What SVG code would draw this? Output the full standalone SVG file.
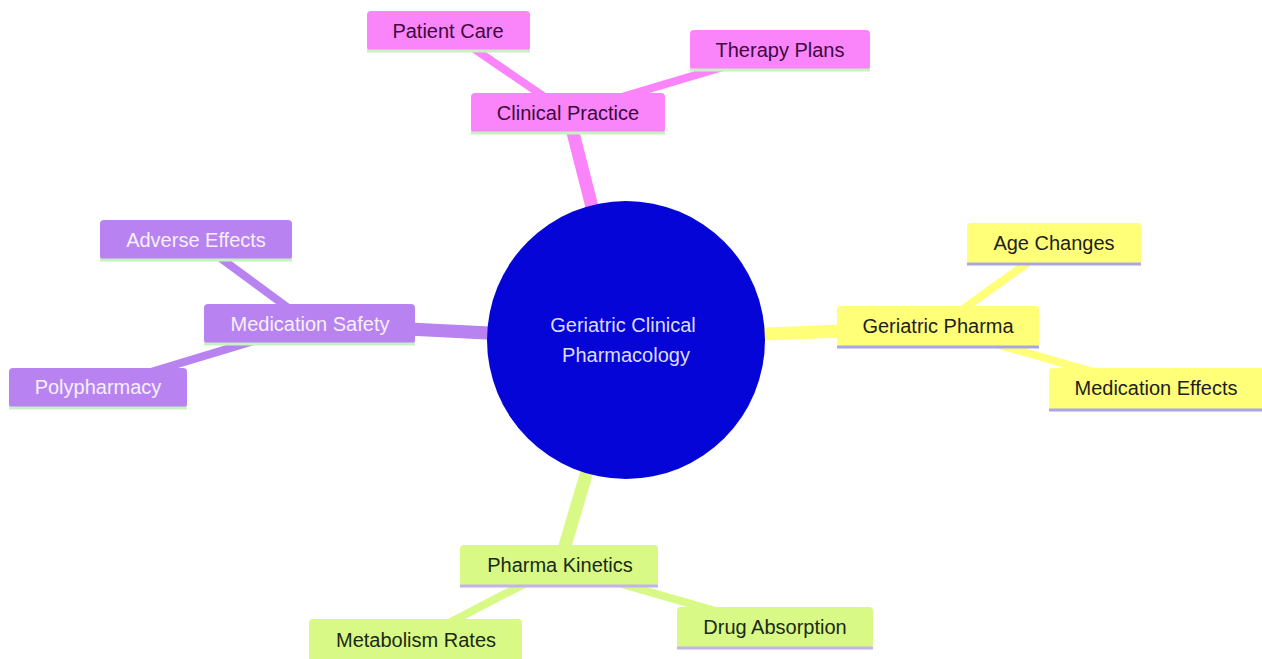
<svg xmlns="http://www.w3.org/2000/svg" width="1262" height="659" viewBox="0 0 1262 659">
<style>
text{font-family:"Liberation Sans",Arial,sans-serif;font-size:20px;text-anchor:middle}
.e0{stroke-width:13;stroke-linecap:butt;fill:none}
.e1{stroke-width:8;stroke-linecap:butt;fill:none}
.pink{fill:#fa84fa}.pinkS{stroke:#fa84fa}
.purp{fill:#b883f0}.purpS{stroke:#b883f0}
.yel{fill:#ffff78}.yelS{stroke:#ffff78}
.lime{fill:#d9f986}.limeS{stroke:#d9f986}
.bg{stroke:#c6f2bf;stroke-width:3}
.bl{stroke:#a9a6e6;stroke-width:3}
.bv{stroke:#c2b3ea;stroke-width:3}
.tp{fill:#3c0a3c}.tw{fill:#f6efff}.td{fill:#1e1e1e}.tl{fill:#1a2a12}
</style>
<rect width="1262" height="659" fill="#ffffff"/>
<g id="connectors">
<line class="e0 pinkS" x1="626" y1="340" x2="568" y2="113"/>
<line class="e0 purpS" x1="626" y1="340" x2="310" y2="324"/>
<line class="e0 yelS" x1="626" y1="340" x2="938" y2="327"/>
<line class="e0 limeS" x1="626" y1="340" x2="559" y2="566"/>
<line class="e1 pinkS" x1="568" y1="113" x2="448" y2="31"/>
<line class="e1 pinkS" x1="568" y1="113" x2="780" y2="50"/>
<line class="e1 purpS" x1="310" y1="324" x2="196" y2="240"/>
<line class="e1 purpS" x1="310" y1="324" x2="98" y2="388"/>
<line class="e1 yelS" x1="938" y1="327" x2="1054" y2="244"/>
<line class="e1 yelS" x1="938" y1="327" x2="1155" y2="390"/>
<line class="e1 limeS" x1="559" y1="566" x2="416" y2="640"/>
<line class="e1 limeS" x1="559" y1="566" x2="775" y2="628"/>
</g>
<g id="root">
<circle cx="626" cy="340" r="139" fill="#0505d8"/>
<text x="623" y="332" fill="#dcdcff">Geriatric Clinical</text>
<text x="626" y="362" fill="#dcdcff">Pharmacology</text>
</g>
<g id="clinical-practice">
<rect class="pink" x="471" y="93" width="194" height="40" rx="4"/>
<line class="bg" x1="471" y1="133" x2="665" y2="133"/>
<text class="tp" x="568" y="120">Clinical Practice</text>
</g>
<g id="patient-care">
<rect class="pink" x="367" y="11" width="163" height="40" rx="4"/>
<line class="bg" x1="367" y1="51" x2="530" y2="51"/>
<text class="tp" x="448" y="38">Patient Care</text>
</g>
<g id="therapy-plans">
<rect class="pink" x="690" y="30" width="180" height="40" rx="4"/>
<line class="bg" x1="690" y1="70" x2="870" y2="70"/>
<text class="tp" x="780" y="57">Therapy Plans</text>
</g>
<g id="medication-safety">
<rect class="purp" x="204" y="304" width="211" height="40" rx="4"/>
<line class="bg" x1="204" y1="344" x2="415" y2="344"/>
<text class="tw" x="310" y="331">Medication Safety</text>
</g>
<g id="adverse-effects">
<rect class="purp" x="100" y="220" width="192" height="40" rx="4"/>
<line class="bg" x1="100" y1="260" x2="292" y2="260"/>
<text class="tw" x="196" y="247">Adverse Effects</text>
</g>
<g id="polypharmacy">
<rect class="purp" x="9" y="368" width="178" height="40" rx="4"/>
<line class="bg" x1="9" y1="408" x2="187" y2="408"/>
<text class="tw" x="98" y="394">Polypharmacy</text>
</g>
<g id="geriatric-pharma">
<rect class="yel" x="837" y="306" width="202" height="41" rx="4"/>
<line class="bl" x1="837" y1="347" x2="1039" y2="347"/>
<text class="td" x="938" y="333">Geriatric Pharma</text>
</g>
<g id="age-changes">
<rect class="yel" x="967" y="223" width="174" height="41" rx="4"/>
<line class="bl" x1="967" y1="264" x2="1141" y2="264"/>
<text class="td" x="1054" y="250">Age Changes</text>
</g>
<g id="medication-effects">
<rect class="yel" x="1049" y="368" width="216" height="42" rx="4"/>
<line class="bl" x1="1049" y1="410" x2="1265" y2="410"/>
<text class="td" x="1156" y="395">Medication Effects</text>
</g>
<g id="pharma-kinetics">
<rect class="lime" x="460" y="545" width="198" height="41" rx="4"/>
<line class="bv" x1="460" y1="586" x2="658" y2="586"/>
<text class="tl" x="560" y="572">Pharma Kinetics</text>
</g>
<g id="metabolism-rates">
<rect class="lime" x="309" y="619" width="213" height="44" rx="4"/>
<text class="tl" x="416" y="647">Metabolism Rates</text>
</g>
<g id="drug-absorption">
<rect class="lime" x="677" y="607" width="196" height="41" rx="4"/>
<line class="bv" x1="677" y1="648" x2="873" y2="648"/>
<text class="tl" x="775" y="634">Drug Absorption</text>
</g>
</svg>
